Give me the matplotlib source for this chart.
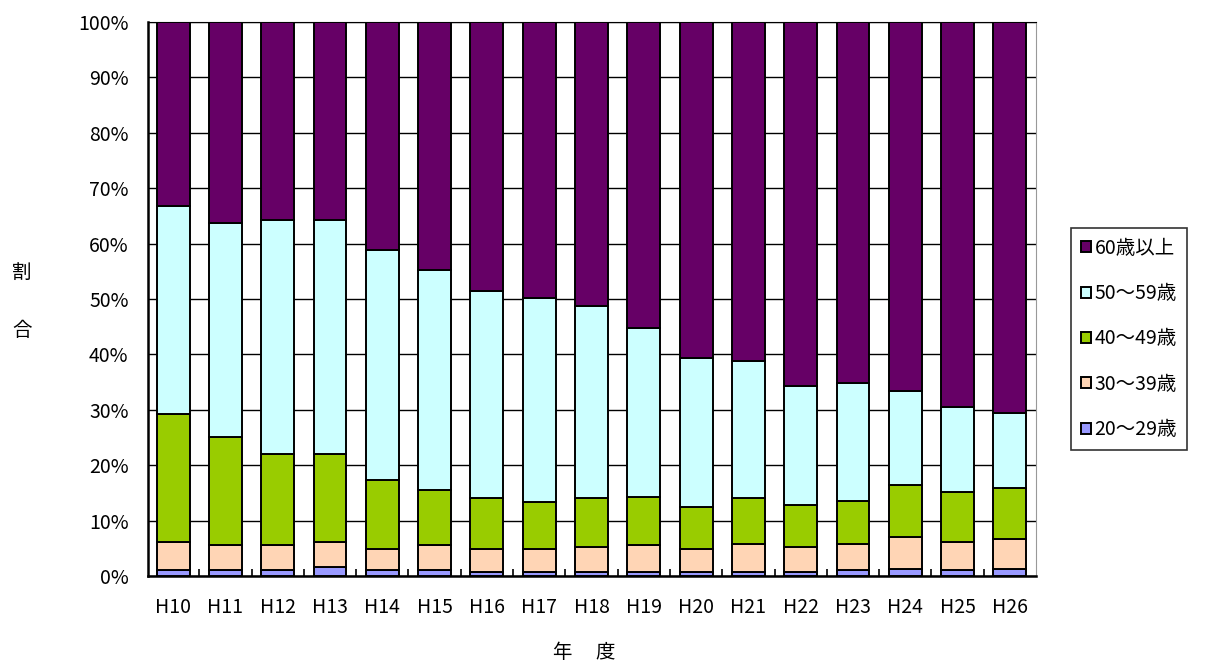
import numpy as np
import matplotlib.pyplot as plt
from matplotlib.ticker import FixedLocator, PercentFormatter

plt.rcParams['font.family'] = ['Noto Sans CJK JP', 'DejaVu Sans']

# 年度
years = ['H10', 'H11', 'H12', 'H13', 'H14', 'H15', 'H16', 'H17', 'H18',
         'H19', 'H20', 'H21', 'H22', 'H23', 'H24', 'H25', 'H26']

# cumulative tops (%)
top_20_29 = [1.1, 1.1, 1.1, 1.6, 1.0, 1.0, 0.7, 0.7, 0.7, 0.7, 0.7, 0.7, 0.7, 1.1, 1.3, 1.1, 1.3]
top_30_39 = [6.1, 5.6, 5.6, 6.1, 4.9, 5.6, 4.9, 4.9, 5.2, 5.6, 4.9, 5.8, 5.2, 5.8, 7.0, 6.1, 6.7]
top_40_49 = [29.3, 25.1, 22.1, 22.1, 17.3, 15.5, 14.0, 13.4, 14.0, 14.3, 12.5, 14.0, 12.8, 13.6, 16.4, 15.2, 15.8]
top_50_59 = [66.7, 63.8, 64.3, 64.3, 58.9, 55.3, 51.4, 50.2, 48.7, 44.8, 39.4, 38.8, 34.3, 34.9, 33.4, 30.5, 29.5]

labels = ['20～29歳', '30～39歳', '40～49歳', '50～59歳', '60歳以上']
colors = ['#9999FF', '#FFD5B5', '#99CC00', '#CCFFFF', '#660066']

tops = np.array([top_20_29, top_30_39, top_40_49, top_50_59, [100.0] * len(years)])
bottoms = np.vstack([np.zeros(len(years)), tops[:-1]])
heights = tops - bottoms

fig = plt.figure(figsize=(12.05, 6.64), dpi=100)
ax = fig.add_axes([0.1228, 0.1325, 0.8598 - 0.1228, 0.9669 - 0.1325])

x = np.arange(len(years))
bars = []
for i in range(len(labels)):
    b = ax.bar(x, heights[i], bottom=bottoms[i], width=0.63, color=colors[i],
               edgecolor='black', linewidth=1.4, label=labels[i], zorder=3)
    bars.append(b)

ax.set_xlim(-0.48, len(years) - 0.5)
ax.set_ylim(0, 100)
ax.set_yticks(np.arange(0, 101, 10))
ax.yaxis.set_major_formatter(PercentFormatter(decimals=0))
ax.yaxis.grid(True, color='black', linewidth=1.0, zorder=0)
ax.set_axisbelow(True)

ax.set_xticks(x)
ax.set_xticklabels(years)
ax.xaxis.set_minor_locator(FixedLocator(np.arange(0.5, len(years) - 1, 1.0)))
ax.tick_params(axis='x', which='major', length=0, pad=15, labelsize=14)
ax.tick_params(axis='x', which='minor', direction='in', length=5, width=1.2)
ax.tick_params(axis='y', length=0, pad=14, labelsize=14)

for s in ['left', 'bottom']:
    ax.spines[s].set_color('black')
    ax.spines[s].set_linewidth(1.8)
ax.spines['right'].set_color('#999999')
ax.spines['top'].set_color('black')

# axis titles
fig.text(562 / 1205, 1 - 652 / 664, '年', fontsize=14, ha='center', va='center')
fig.text(605 / 1205, 1 - 652 / 664, '度', fontsize=14, ha='center', va='center')
fig.text(22 / 1205, 1 - 272 / 664, '割', fontsize=14, ha='center', va='center')
fig.text(22 / 1205, 1 - 330 / 664, '合', fontsize=14, ha='center', va='center')

handles = bars[::-1]
leg = fig.legend(handles, labels[::-1], loc='center left',
                 bbox_to_anchor=(0.889, 0.4895), fontsize=14, frameon=True,
                 fancybox=False, edgecolor='black', labelspacing=1.25,
                 handlelength=0.5, handleheight=0.5, handletextpad=0.2,
                 borderpad=0.5, borderaxespad=0)
leg.get_frame().set_linewidth(1.2)

fig.savefig('out.png', dpi=100)
